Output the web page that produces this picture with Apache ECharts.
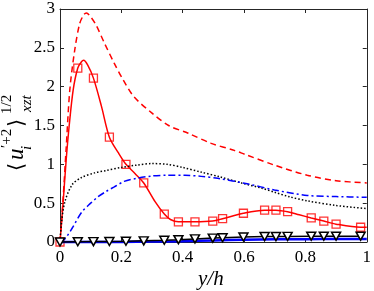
<!DOCTYPE html>
<html>
<head>
<meta charset="utf-8">
<script src="https://cdn.jsdelivr.net/npm/echarts@6/dist/echarts.min.js"></script>
<style>html,body{margin:0;padding:0;background:#fff;}#c{width:374px;height:291px;}</style>
</head>
<body>
<div id="c"></div>
<script>
// x ticks / y ticks
const xTicks = [0, 0.2, 0.4, 0.6, 0.8, 1];
const yTicks = [0, 0.5, 1, 1.5, 2, 2.5, 3];

// red solid curve (with square markers)
const redLineX = [0, 0.01, 0.02, 0.03, 0.043, 0.058, 0.07, 0.077, 0.09, 0.109, 0.135, 0.161, 0.19, 0.215, 0.245, 0.273, 0.31, 0.34, 0.36, 0.386, 0.44, 0.498, 0.53, 0.598, 0.667, 0.704, 0.742, 0.78, 0.819, 0.86, 0.9, 0.98, 1.0];
const redLineY = [0, 0.5, 1.05, 1.5, 1.96, 2.24, 2.32, 2.34, 2.28, 2.11, 1.75, 1.35, 1.15, 1.0, 0.88, 0.76, 0.52, 0.36, 0.29, 0.26, 0.26, 0.27, 0.3, 0.37, 0.41, 0.41, 0.39, 0.35, 0.31, 0.27, 0.23, 0.19, 0.19];
const markX = [0, 0.058, 0.109, 0.161, 0.215, 0.273, 0.34, 0.386, 0.44, 0.498, 0.53, 0.598, 0.667, 0.704, 0.742, 0.819, 0.86, 0.9, 0.98];
const redMarkY = [0, 2.24, 2.11, 1.35, 1.0, 0.76, 0.36, 0.26, 0.26, 0.27, 0.3, 0.37, 0.41, 0.41, 0.39, 0.31, 0.27, 0.23, 0.19];

// red dashed
const redDashX = [0, 0.01, 0.02, 0.032, 0.048, 0.064, 0.078, 0.086, 0.1, 0.118, 0.145, 0.177, 0.204, 0.241, 0.3, 0.354, 0.418, 0.493, 0.568, 0.602, 0.699, 0.806, 0.9, 1.0];
const redDashY = [0, 0.55, 1.2, 1.96, 2.47, 2.81, 2.93, 2.95, 2.9, 2.79, 2.56, 2.3, 2.1, 1.87, 1.66, 1.5, 1.4, 1.27, 1.18, 1.13, 0.99, 0.86, 0.79, 0.76];

// black dotted
const blackDotX = [0, 0.005, 0.016, 0.04, 0.07, 0.113, 0.15, 0.2, 0.25, 0.3, 0.35, 0.4, 0.46, 0.52, 0.592, 0.66, 0.7, 0.75, 0.806, 0.9, 1.0];
const blackDotY = [0, 0.25, 0.52, 0.74, 0.83, 0.89, 0.92, 0.96, 0.99, 1.01, 1.0, 0.96, 0.9, 0.84, 0.76, 0.69, 0.64, 0.58, 0.53, 0.47, 0.43];

// blue dash-dot
const blueDashDotX = [0, 0.016, 0.04, 0.07, 0.1, 0.123, 0.15, 0.177, 0.209, 0.25, 0.3, 0.35, 0.407, 0.46, 0.514, 0.61, 0.699, 0.806, 0.9, 1.0];
const blueDashDotY = [0, 0.04, 0.18, 0.38, 0.5, 0.58, 0.65, 0.71, 0.78, 0.82, 0.85, 0.86, 0.86, 0.845, 0.82, 0.75, 0.67, 0.6, 0.585, 0.575];

// black solid with triangles
const blackTriY = [0, 0.003, 0.005, 0.007, 0.01, 0.015, 0.022, 0.03, 0.04, 0.05, 0.055, 0.065, 0.07, 0.07, 0.072, 0.075, 0.075, 0.075, 0.075];

// blue solid
const blueSolidX = [0, 0.1, 0.2, 0.3, 0.4, 0.5, 0.6, 0.7, 0.8, 0.9, 1.0];
const blueSolidY = [0, 0, 0, 0.005, 0.01, 0.02, 0.03, 0.035, 0.037, 0.04, 0.04];

const zip = (xs, ys) => xs.map((x, i) => [x, ys[i]]);

const axisColor = '#262626';
const serif = 'Liberation Serif';

const chart = echarts.init(document.getElementById('c'), null, {renderer: 'canvas'});
const baseX = {
  type: 'value', min: 0, max: 1, interval: 0.2,
  axisLine: {show: true, onZero: false, lineStyle: {color: axisColor, width: 1}},
  axisTick: {show: true, inside: true, length: 4, lineStyle: {color: axisColor}},
  splitLine: {show: false}
};
const baseY = {
  type: 'value', min: 0, max: 3, interval: 0.5,
  axisLine: {show: true, onZero: false, lineStyle: {color: axisColor, width: 1}},
  axisTick: {show: true, inside: true, length: 4, lineStyle: {color: axisColor}},
  splitLine: {show: false}
};
// rotated text piece: anchored at its left-middle, reading upward
const rt = (x, y, text, size, italic, family) => ({type: 'text', x: x, y: y, rotation: Math.PI / 2, style: {
  text: text, fontFamily: family || serif, fontSize: size, fontStyle: italic ? 'italic' : 'normal',
  fill: '#000', verticalAlign: 'middle', align: 'left'}});
chart.setOption({
  animation: false,
  backgroundColor: '#fff',
  grid: {left: 60, right: 3, top: 9, bottom: 49, containLabel: false},
  xAxis: [
    Object.assign({}, baseX, {position: 'bottom', axisLabel: {show: true, margin: 7, color: '#000', fontFamily: serif, fontSize: 17, formatter: v => String(+v.toFixed(1))}}),
    Object.assign({}, baseX, {position: 'top', axisLabel: {show: false}})
  ],
  yAxis: [
    Object.assign({}, baseY, {position: 'left', axisLabel: {show: true, margin: 5, color: '#000', fontFamily: serif, fontSize: 17, formatter: v => String(+v.toFixed(1))}}),
    Object.assign({}, baseY, {position: 'right', axisLabel: {show: false}})
  ],
  series: [
    {type: 'line', data: zip(redDashX, redDashY), smooth: 0.3, showSymbol: false, symbol: 'none',
     lineStyle: {color: '#ff0000', width: 1.5, type: [6, 4]}},
    {type: 'line', data: zip(redLineX, redLineY), smooth: 0.3, showSymbol: false, symbol: 'none',
     lineStyle: {color: '#ff0000', width: 1.5}},
    {type: 'line', data: zip(blackDotX, blackDotY), smooth: 0.3, showSymbol: false, symbol: 'none',
     lineStyle: {color: '#000', width: 1.5, type: [1.5, 2]}},
    {type: 'line', data: zip(blueDashDotX, blueDashDotY), smooth: 0.3, showSymbol: false, symbol: 'none',
     lineStyle: {color: '#0000ff', width: 1.5, type: [7, 3, 2, 3]}},
    {type: 'line', data: zip(blueSolidX, blueSolidY), smooth: 0.2, showSymbol: false, symbol: 'none', clip: false,
     lineStyle: {color: '#0000ff', width: 2.5}},
    {type: 'line', data: zip(markX, blackTriY), showSymbol: true, symbol: 'triangle', symbolRotate: 180, symbolSize: [9, 8], clip: false,
     lineStyle: {color: '#000', width: 1.5}, itemStyle: {color: '#fff', borderColor: '#000', borderWidth: 1.5}},
    {type: 'scatter', data: zip(markX, redMarkY), symbol: 'rect', symbolSize: 8, clip: false,
     itemStyle: {color: '#fff', borderColor: '#ff0000', borderWidth: 1.3}}
  ],
  graphic: [
    {type: 'text', left: 198, top: 269, style: {text: 'y/h', fontFamily: serif, fontSize: 21, fontStyle: 'italic', fill: '#000'}},
    rt(18, 171, '\u27E8', 21, false, 'DejaVu Serif'),
    rt(17, 160, 'u', 23, true),
    rt(7, 148, '\u2032+2', 15, false),
    rt(27, 150, 'i', 15, true),
    rt(18, 127, '\u27E9', 21, false, 'DejaVu Serif'),
    rt(7, 114, '1/2', 15, false),
    rt(27, 112, 'xzt', 15, true)
  ]
});
</script>
</body>
</html>
